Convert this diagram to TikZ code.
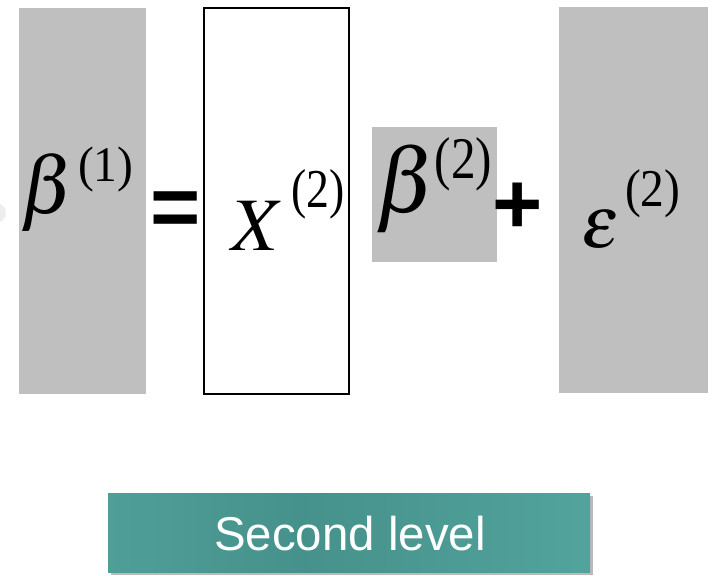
\documentclass[tikz,border=0pt]{standalone}
\usepackage{mathptmx}
\usepackage{graphicx}
\usepackage{fontspec}
\setmainfont{Liberation Serif}
\setsansfont{Liberation Sans}
\usetikzlibrary{shadows}

\definecolor{boxgray}{RGB}{191,191,191}
\definecolor{tealA}{RGB}{98,160,155}
\definecolor{tealB}{RGB}{84,168,160}
\definecolor{tealC}{RGB}{70,145,139}
\pgfdeclarehorizontalshading{levelshade}{100bp}{color(0bp)=(tealA); color(12bp)=(tealB); color(45bp)=(tealC); color(82bp)=(tealB); color(100bp)=(tealA)}

% raised, slightly stretched upper index: raise, size, y-stretch, text
\newcommand{\upidx}[4]{\raisebox{#1}{\scalebox{1}[#3]{\fontsize{#2}{#2}\selectfont #4}}}

\begin{document}
\begin{tikzpicture}[x=0.02cm,y=-0.02cm,
  graybox/.style={fill=boxgray},
  formula/.style={inner sep=0pt,anchor=base west},
  opsign/.style={inner sep=0pt,font=\sffamily\bfseries\fontsize{49}{55}\selectfont}]

  \useasboundingbox (0,0) rectangle (712,575);

  % ---- faint mark at the left edge ----
  \fill[blue!8!gray!12] (-4,213) circle (10);

  % ---- boxes ----
  \path[graybox] (19,8) rectangle (146,394);
  \path[draw=black,line width=1pt,fill=white] (204,8) rectangle (349,394);
  \path[graybox] (372,127) rectangle (497,262);
  \path[graybox] (559,7) rectangle (708,393);

  % ---- formula parts ----
  \node[formula,font=\fontsize{46}{52}\selectfont] (beta1) at (20,213)
    {$\beta$\kern2pt\upidx{18pt}{27pt}{1.05}{(1)}};
  \node[opsign] (eq) at (176,214) {=};
  \node[formula,font=\fontsize{43}{50}\selectfont] (xmat) at (231,250)
    {$X$\kern4pt\upidx{24pt}{26pt}{1.2}{(2)}};
  \node[formula,font=\fontsize{52}{58}\selectfont] (beta2) at (375,212)
    {$\beta$\kern-1pt\upidx{19pt}{28pt}{1.2}{(2)}};
  \node[opsign] (plus) at (518,208) {+};
  \node[formula,font=\fontsize{42}{50}\selectfont] (eps2) at (581,247)
    {$\epsilon$\kern3pt\upidx{23pt}{27pt}{1.12}{(2)}};

  % ---- level label ----
  \path[shading=levelshade,drop shadow={shadow xshift=1.5pt,shadow yshift=-1.5pt,opacity=0.45,fill=black!60}]
    (108,493) rectangle (590,572);
  \node[text=white,font=\sffamily\fontsize{27}{32}\selectfont] (level) at (350,534) {Second level};
\end{tikzpicture}
\end{document}
